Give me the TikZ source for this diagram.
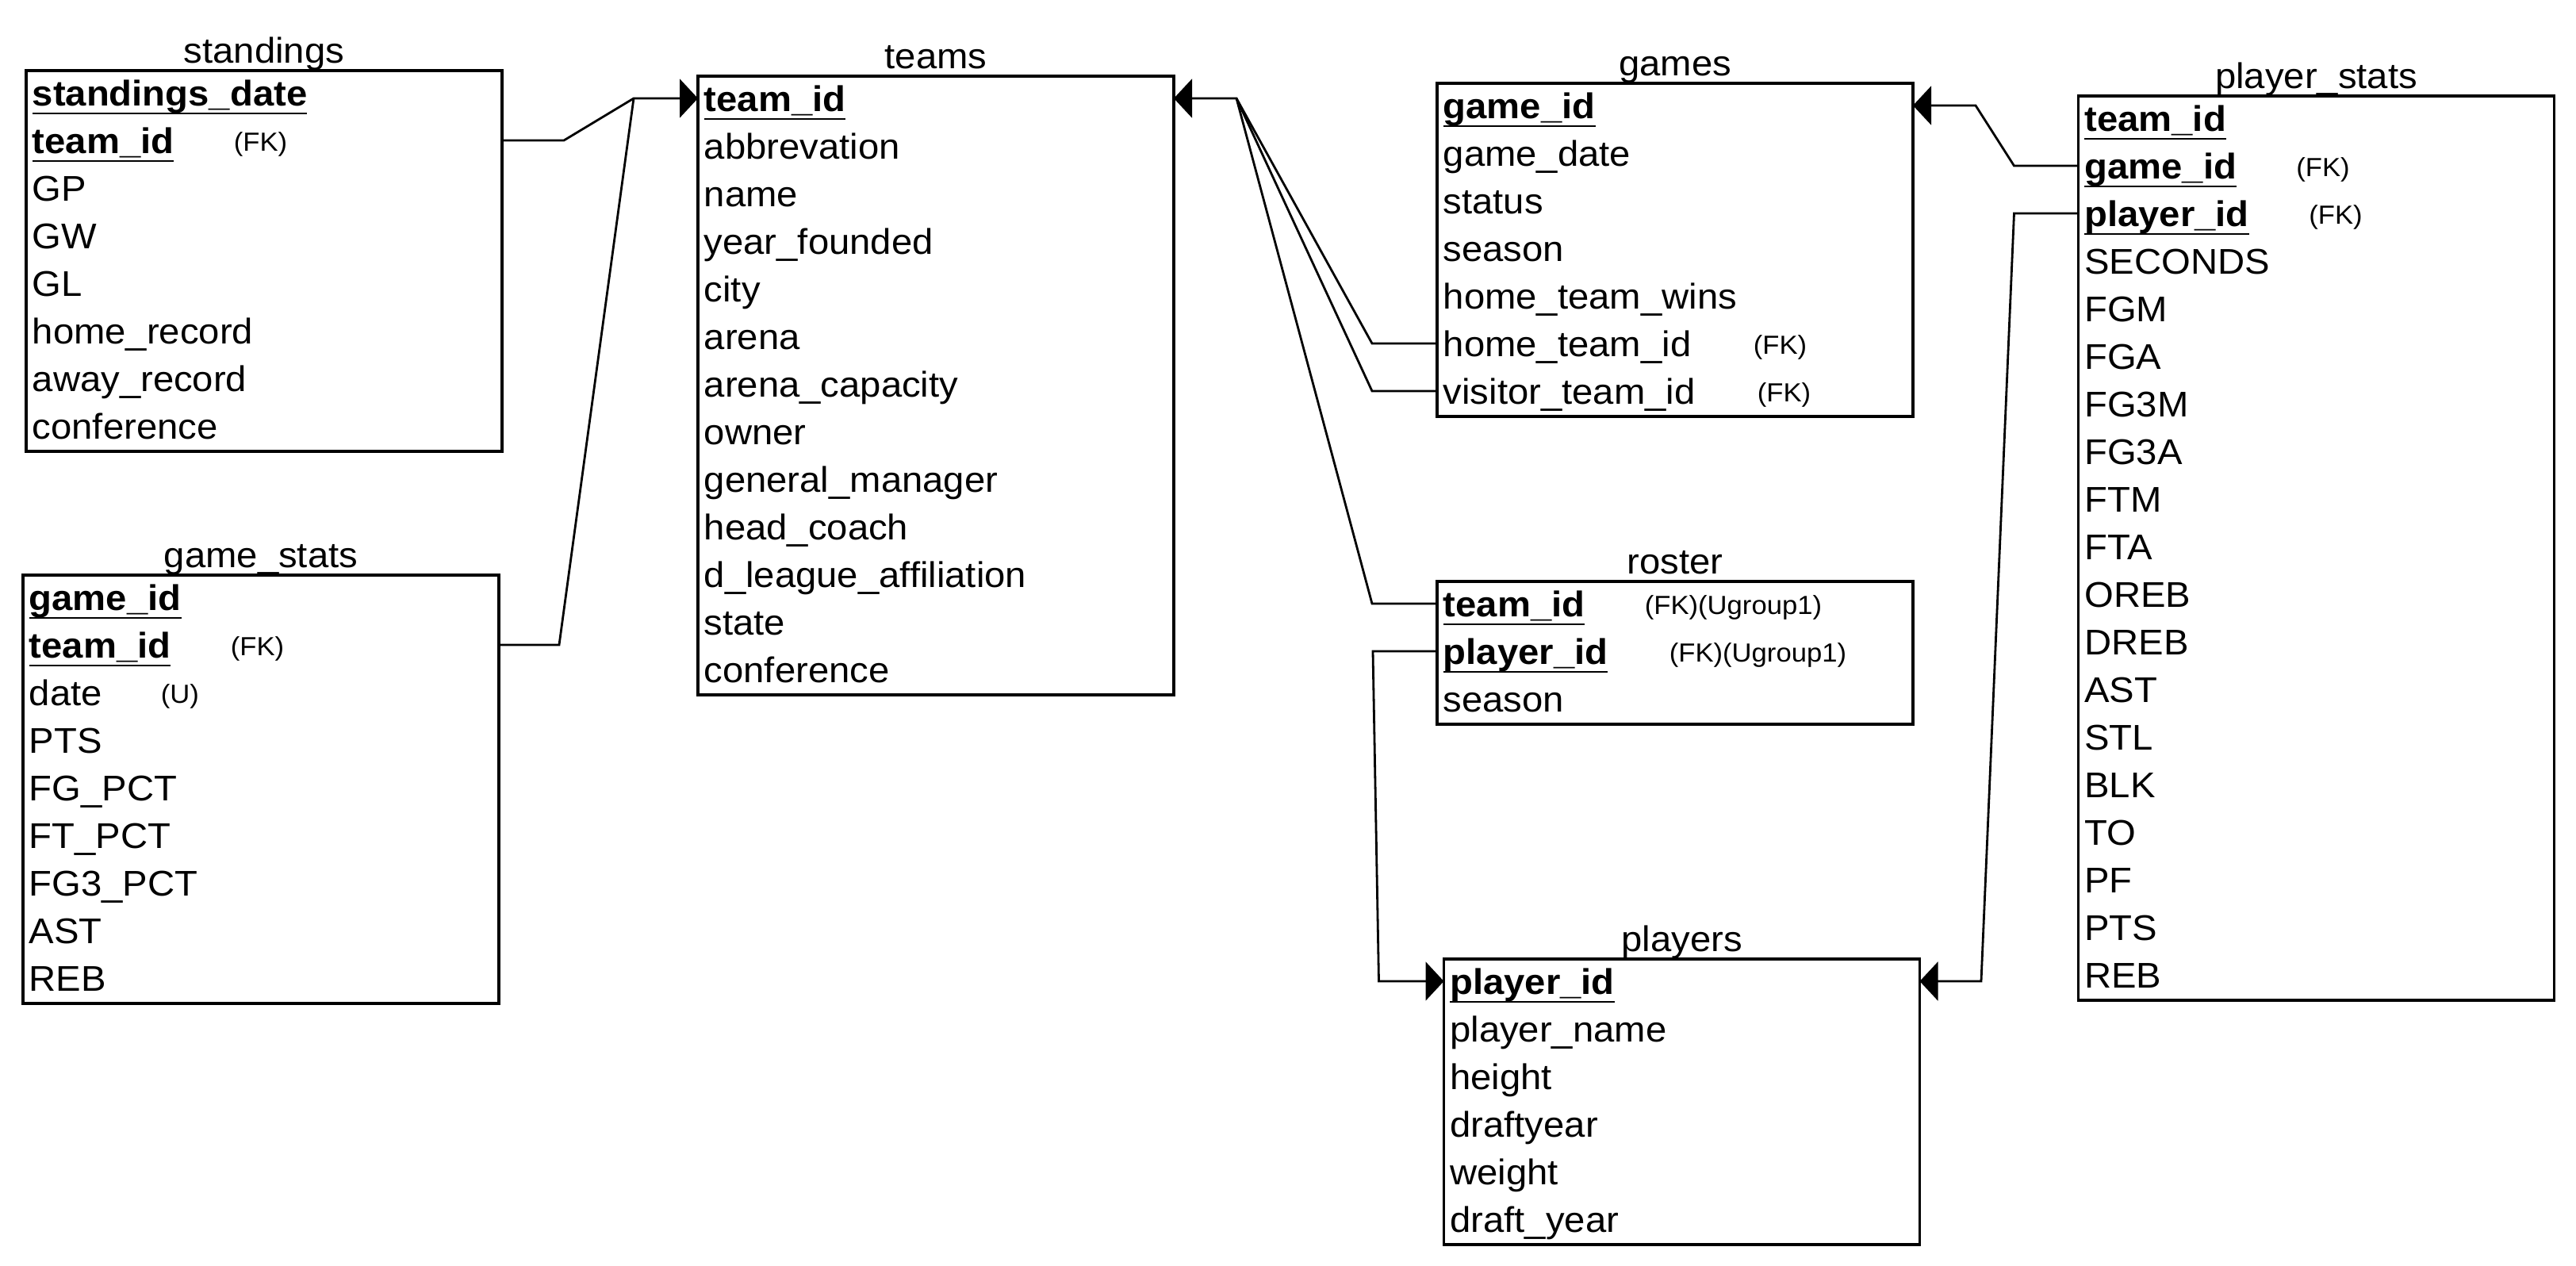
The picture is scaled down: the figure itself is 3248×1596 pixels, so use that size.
\documentclass[tikz,border=0pt]{standalone}
\usepackage{fontspec}
\setmainfont{Liberation Sans}[FakeStretch=1.05]
\usetikzlibrary{arrows.meta,calc}
\newsavebox\kybox
\newcommand\ky[1]{\sbox\kybox{\bfseries #1}\rlap{\rule[-2.85pt]{\wd\kybox}{0.7pt}}\usebox\kybox}
\newcommand\mainsz{\fontsize{11.25pt}{13pt}\selectfont}
\newcommand\tagsz{\fontsize{8.25pt}{10pt}\selectfont}
\tikzset{
  tbox/.style={draw, line width=0.92pt, minimum width=150pt, inner sep=0pt, outer sep=0pt},
  rowbox/.style={minimum width=150pt, minimum height=15pt, inner sep=0pt, outer sep=0pt},
  rowtxt/.style={inner sep=0pt, font=\mainsz},
  ttl/.style={inner sep=0pt, font=\mainsz},
  tag/.style={inner sep=0pt, anchor=base west, font=\tagsz},
  conn/.style={line width=0.7pt},
  arr/.style={conn, -{Triangle[length=5.75pt,width=12.2pt]}}
}
% #1 name, #2 title, #3 left, #4 top, #5 number of rows, #6 rows
\newcommand\ertable[6]{%
  \node[tbox, minimum height={#5*15pt}, anchor=north west] (#1) at (#3,#4) {};
  \node[ttl, anchor=base] (#1-title) at ({#3+300},{#4-10}) {#2};
  \foreach \txt [count=\i] in {#6} {
    \node[rowbox] (#1-\i) at ({#3+300},{#4+60*\i-32}) {};
    \node[rowtxt, anchor=base west] (#1-\i-t) at ($(#1-\i.west)+(7,16)$) {\txt};
  }
}
\begin{document}
\begin{tikzpicture}[x=0.25pt,y=-0.25pt]
\useasboundingbox (0,0) rectangle (3248,1596);

\ertable{stand}{standings}{33}{89}{8}{\ky{standings\_date},\ky{team\_id},GP,GW,GL,home\_record,away\_record,conference}
\ertable{gstats}{game\_stats}{29}{725}{9}{\ky{game\_id},\ky{team\_id},date,PTS,FG\_PCT,FT\_PCT,FG3\_PCT,AST,REB}
\ertable{teams}{teams}{880}{96}{13}{\ky{team\_id},abbrevation,name,year\_founded,city,arena,arena\_capacity,owner,general\_manager,head\_coach,d\_league\_affiliation,state,conference}
\ertable{games}{games}{1812}{105}{7}{\ky{game\_id},game\_date,status,season,home\_team\_wins,home\_team\_id,visitor\_team\_id}
\ertable{roster}{roster}{1812}{733}{3}{\ky{team\_id},\ky{player\_id},season}
\ertable{players}{players}{1820.5}{1209}{6}{\ky{player\_id},player\_name,height,draftyear,weight,draft\_year}
\ertable{pstats}{player\_stats}{2620.5}{121}{19}{\ky{team\_id},\ky{game\_id},\ky{player\_id},SECONDS,FGM,FGA,FG3M,FG3A,FTM,FTA,OREB,DREB,AST,STL,BLK,TO,PF,PTS,REB}

\node[tag] (stand-fk) at ($(stand-2.west)+(261,13)$) {(FK)};
\node[tag] (gstats-fk) at ($(gstats-2.west)+(261,13)$) {(FK)};
\node[tag] (gstats-u) at ($(gstats-3.west)+(173,13)$) {(U)};
\node[tag] (games-fk1) at ($(games-6.west)+(398,13)$) {(FK)};
\node[tag] (games-fk2) at ($(games-7.west)+(403,13)$) {(FK)};
\node[tag] (roster-fk1) at ($(roster-1.west)+(261,13)$) {(FK)(Ugroup1)};
\node[tag] (roster-fk2) at ($(roster-2.west)+(292,13)$) {(FK)(Ugroup1)};
\node[tag] (pstats-fk1) at ($(pstats-2.west)+(274,13)$) {(FK)};
\node[tag] (pstats-fk2) at ($(pstats-3.west)+(290,13)$) {(FK)};

\coordinate (j1) at (799,124);
\draw[arr] (stand-2.east) -- ++(78,0) -- (j1) -- (teams-1.west);
\draw[conn] (gstats-2.east) -- ++(76,0) -- (j1);
\coordinate (j2) at (1559,124);
\draw[arr] (games-6.west) -- ++(-82,0) -- (j2) -- (teams-1.east);
\draw[conn] (games-7.west) -- ++(-82,0) -- (j2);
\draw[conn] (roster-1.west) -- ++(-82,0) -- (j2);
\coordinate (j3) at (1738.5,1237);
\draw[arr] (roster-2.west) -- ++(-81,0) -- (j3) -- (players-1.west);
\coordinate (j4) at (2491,133);
\draw[arr] (pstats-2.west) -- ++(-81,0) -- (j4) -- (games-1.east);
\coordinate (j5) at (2498,1237);
\draw[arr] (pstats-3.west) -- ++(-81,0) -- (j5) -- (players-1.east);
\end{tikzpicture}
\end{document}
